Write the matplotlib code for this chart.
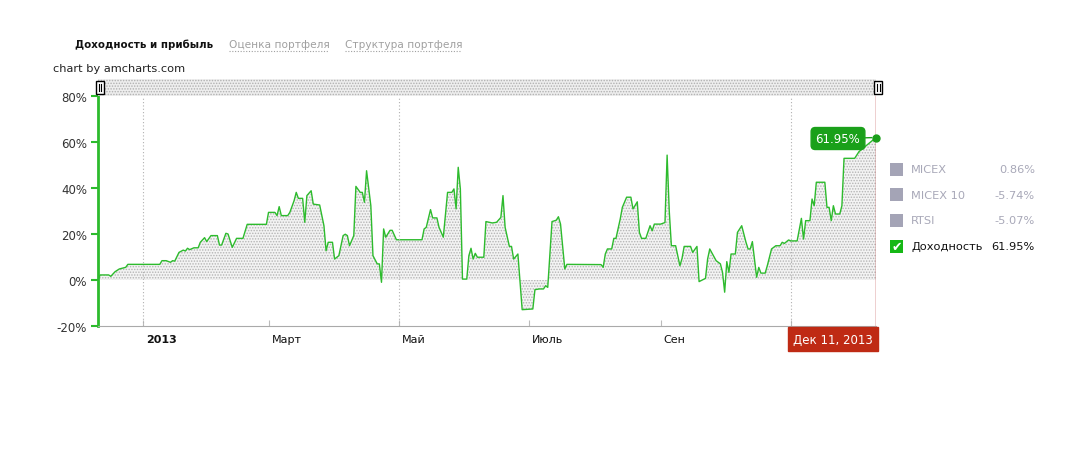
import numpy as np
import matplotlib.pyplot as plt
from matplotlib.patches import Rectangle

# portfolio return, % (day offsets from 2012-12-11)
start = np.datetime64("2012-12-11")
days = [0, 1, 5, 6, 8, 10, 13, 14, 29, 30, 32, 34, 35, 36, 38, 40, 41, 42, 43, 45,
        47, 48, 50, 51, 53, 56, 57, 58, 60, 61, 63, 65, 68, 70, 79,
        80, 83, 84, 85, 86, 89, 90, 92, 93, 94, 96, 97, 98, 100, 101, 104, 106, 107,
        108, 110, 111, 113, 115, 116, 117, 118, 120, 121, 123, 124, 125, 126, 128,
        129, 131, 132, 133, 134, 135, 137, 138, 140, 152,
        153, 154, 156, 157, 159, 160, 162, 164, 166, 167, 168, 169, 170, 171, 173,
        174, 175, 176, 177, 178, 181, 182, 185, 187, 189, 190, 191, 193, 194, 195,
        197, 199, 204, 205, 207, 209, 210, 211, 213, 215, 216, 217, 219, 220, 236,
        237, 238, 239, 241, 242, 243, 245, 246, 248, 250, 251, 253, 254, 255, 257,
        259, 260, 261, 264, 266, 267, 268, 269, 271, 273, 274, 275, 278, 279, 281,
        282, 285, 286, 287, 290, 292, 293, 294, 295, 296, 297, 299,
        300, 302, 304, 305, 306, 307, 309, 310, 311, 313, 314, 316, 318, 320, 321,
        322, 324, 325, 328, 330, 331, 332, 334, 335, 336, 337, 341, 342, 343, 344,
        345, 346, 348, 349, 350, 355, 357, 365]
returns = [0.0, 2.2, 2.2, 1.6, 3.6, 4.8, 5.5, 6.8, 6.8, 8.4, 8.4, 7.7, 8.4, 8.2, 12.0,
           13.0, 12.6, 13.8, 13.2, 14.0, 14.0, 16.4, 18.4, 16.7, 19.3, 19.3, 15.2, 15.2,
           20.3, 20.0, 14.2, 18.1, 18.1, 24.2, 24.2,
           29.4, 29.4, 28.0, 31.9, 28.0, 28.0, 29.4, 34.5, 38.1, 35.5, 35.5, 25.1, 36.7,
           38.8, 33.0, 32.6, 23.6, 12.7, 16.4, 16.4, 9.1, 10.6, 19.3, 19.9, 19.3, 14.9,
           19.3, 40.7, 38.1, 38.1, 33.8, 47.5, 32.3, 10.6, 7.0, 7.0, -1.0, 22.2, 18.6,
           21.6, 21.6, 17.5, 17.5,
           22.2, 22.9, 30.6, 27.0, 27.0, 22.9, 18.6, 38.1, 38.1, 39.6, 30.9, 49.0, 39.6,
           0.4, 0.4, 10.6, 13.8, 9.1, 11.6, 9.9, 9.9, 25.4, 24.8, 25.1, 27.2, 36.7, 22.9,
           14.6, 14.6, 9.1, 11.3, -12.9, -12.6, -4.2, -3.9, -3.9, -2.5, -3.2, 25.4, 26.0,
           27.5, 24.3, 4.8, 6.8, 6.7,
           5.5, 11.3, 13.5, 13.5, 18.1, 18.1, 26.5, 31.6, 36.0, 36.0, 30.9, 34.0, 20.7,
           18.1, 18.1, 23.6, 21.4, 24.3, 24.3, 25.0, 54.3, 30.1, 14.9, 14.9, 6.2, 9.4,
           14.6, 14.6, 12.0, 14.6, -0.7, 0.7, 9.1, 13.5, 8.4, 7.0, 3.3, -5.3, 8.0, 3.3,
           11.3, 11.3,
           20.7, 23.6, 16.4, 13.5, 13.5, 16.7, 1.2, 5.5, 3.0, 3.0, 6.2, 13.5, 14.9, 14.9,
           16.4, 15.9, 17.4, 17.0, 17.0, 26.8, 17.8, 25.8, 25.8, 35.2, 32.3, 42.5, 42.5,
           31.6, 31.6, 25.8, 32.3, 28.7, 28.7, 32.3, 52.9, 52.9, 55.8, 61.95]

legend_names = ["MICEX", "MICEX 10", "RTSI", "Доходность"]
legend_values = [0.86, -5.74, -5.07, 61.95]

tick_dates = ["2013-01-01", "2013-03-01", "2013-05-01", "2013-07-01", "2013-09-01"]
tick_labels = ["2013", "Март", "Май", "Июль", "Сен"]
grid_dates = ["2013-01-01", "2013-05-01", "2013-11-01"]
y_ticks = [-20, 0, 20, 40, 60, 80]

W, H = 1083, 460
GREEN = "#2dbb2d"
plt.rcParams["font.family"] = ["DejaVu Sans"]
plt.rcParams["hatch.linewidth"] = 0.7

dates = start + np.array(days).astype("timedelta64[D]")
end = start + np.timedelta64(365, "D")

fig = plt.figure(figsize=(W / 100, H / 100), dpi=100)
ax = fig.add_axes([98 / W, 1 - 327 / H, 778 / W, 230 / H])

# dotted area under the line
ax.fill_between(dates, returns, 0, facecolor="#f3f3f3", edgecolor="#b4b4b4",
                hatch="......", linewidth=0)
ax.plot(dates, returns, color=GREEN, lw=1)

ax.set_xlim(start, end)
ax.set_ylim(-20, 80)
ax.set_yticks(y_ticks)
ax.set_yticklabels([f"{t}%" for t in y_ticks], fontsize=8.5, color="#333333")
ax.tick_params(axis="y", color=GREEN, length=5, width=1.5, pad=3)

ax.set_xticks([np.datetime64(d) for d in tick_dates] + [np.datetime64("2013-11-01")])
ax.set_xticklabels([])
ax.tick_params(axis="x", direction="in", length=4, color="#bbbbbb")
for d, lab in zip(tick_dates, tick_labels):
    ax.annotate(lab, xy=(np.datetime64(d), 0), xycoords=("data", "axes fraction"),
                xytext=(3, -13), textcoords="offset pixels", ha="left", va="center",
                fontsize=8, color="#111111",
                fontweight="bold" if lab == "2013" else "normal")
for d in grid_dates:
    ax.axvline(np.datetime64(d), color="#b0b0b0", lw=0.8, ls=(0, (1, 2)))

for s in ["top", "right"]:
    ax.spines[s].set_visible(False)
ax.spines["left"].set_color(GREEN)
ax.spines["left"].set_linewidth(2)
ax.spines["bottom"].set_color("#aaaaaa")
ax.spines["bottom"].set_linestyle((0, (3, 1)))

# cursor
ax.axvline(end, color="#aa1111", lw=1)
ax.plot(end, returns[-1], "o", ms=5, color="#1a9e1a", clip_on=False, zorder=5)
ax.annotate(f"{returns[-1]:.2f}%", xy=(end, returns[-1]), xytext=(-38, -1),
            textcoords="offset pixels", ha="center", va="center", color="white",
            fontsize=8.5, zorder=6,
            bbox=dict(boxstyle="round,pad=0.38,rounding_size=0.35", fc="#1aa01a", ec="#1aa01a"),
            arrowprops=dict(arrowstyle="-", color="#1aa01a", lw=1, shrinkA=0, shrinkB=3))
ax.annotate("Дек 11, 2013", xy=(end, 0), xycoords=("data", "axes fraction"),
            xytext=(-43, -13), textcoords="offset pixels", ha="center", va="center",
            color="white", fontsize=8.5, annotation_clip=False,
            bbox=dict(boxstyle="square,pad=0.45", fc="#bf2a14", ec="#bf2a14"))

# scrollbar band
sb = fig.add_axes([98 / W, 1 - 97 / H, 778 / W, 17 / H])
sb.axis("off")
sb.add_patch(Rectangle((0, 0), 1, 1, transform=sb.transAxes, facecolor="#eeeeee",
                       edgecolor="#b0b0b0", hatch="......", linewidth=0))
for gx in [100, 878]:
    fig.patches.append(Rectangle(((gx - 4) / W, 1 - 95 / H), 8 / W, 13 / H,
                                 transform=fig.transFigure, fc="white", ec="black", lw=1))
    for dx in (-1.5, 1.5):
        fig.lines.append(plt.Line2D([(gx + dx) / W] * 2, [1 - 92 / H, 1 - 85 / H],
                                    transform=fig.transFigure, color="black", lw=0.8))

# header tabs
fig.text(75 / W, 1 - 45 / H, "Доходность и прибыль", fontsize=7.4, fontweight="bold",
         color="#111111", va="center")
for x0, x1, tab in [(229, 329, "Оценка портфеля"), (345, 460, "Структура портфеля")]:
    fig.text(x0 / W, 1 - 45 / H, tab, fontsize=7.6, color="#a0a0a0", va="center")
    fig.lines.append(plt.Line2D([x0 / W, x1 / W], [1 - 52 / H] * 2, transform=fig.transFigure,
                                color="#a0a0a0", lw=0.8, ls=(0, (1, 1.5))))
fig.text(53 / W, 1 - 69 / H, "chart by amcharts.com", fontsize=8.2, color="#222222", va="center")

# legend
for i, (name, val) in enumerate(zip(legend_names, legend_values)):
    yc = 1 - (170 + i * 25.7) / H
    active = name == "Доходность"
    fig.patches.append(Rectangle((890 / W, yc - 6.5 / H), 13 / W, 13 / H,
                                 transform=fig.transFigure, lw=0,
                                 fc="#16b816" if active else "#a4a4b6"))
    if active:
        fig.text(896.5 / W, yc, "✔", fontsize=9, color="white", ha="center", va="center")
    c = "#111111" if active else "#a8a8b8"
    fig.text(911 / W, yc, name, fontsize=8.2, color=c, va="center")
    fig.text(1035 / W, yc, f"{val:.2f}%", fontsize=8.2, color=c, va="center", ha="right")

fig.savefig("out.png", dpi=100)
